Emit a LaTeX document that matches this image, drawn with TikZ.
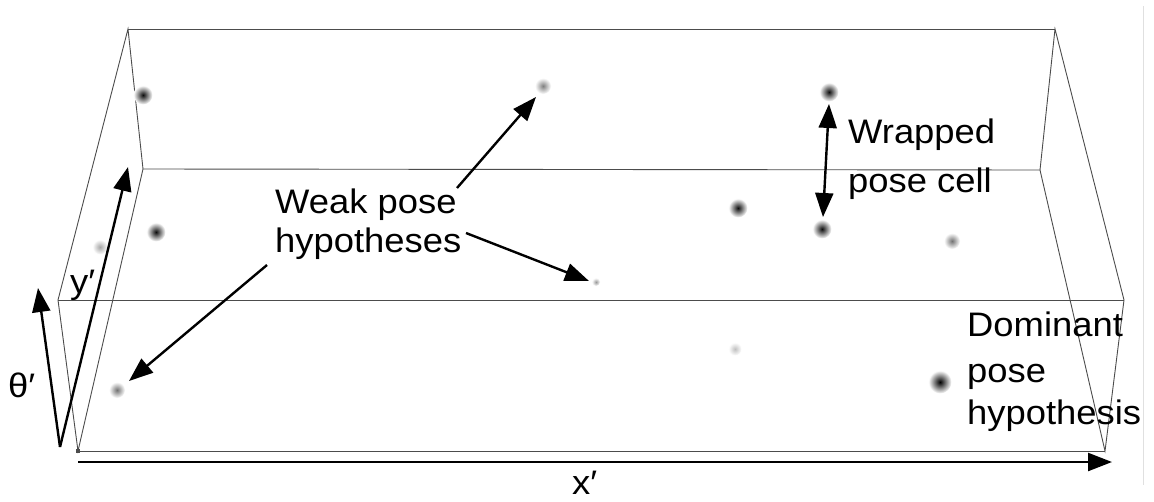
\documentclass[tikz,border=0pt]{standalone}
\usepackage{fontspec}
\setmainfont{Liberation Sans}[FakeStretch=1.07]
\usetikzlibrary{arrows.meta}
\begin{document}
\begin{tikzpicture}[x=1pt,y=-1pt,
  edge/.style={draw=black!70, line width=0.9pt},
  arr/.style={line width=2.4pt, -{Triangle[length=24pt,width=18pt]}},
  darr/.style={line width=2.4pt, {Triangle[length=24pt,width=18pt]}-{Triangle[length=24pt,width=18pt]}},
  lbl/.style={anchor=base west, inner sep=0pt, font=\fontsize{34}{40}\selectfont},
  blob/.style={circle, inner sep=0pt, shade, outer color=white},
]
\useasboundingbox (0,0) rectangle (1154,501);
\fill[white] (0,0) rectangle (1154,501);
% faint border on the right
\draw[black!12, line width=1pt] (1143,6) -- (1143,485);

% box corners
\coordinate (A) at (128,29);  \coordinate (Ar) at (1055,29);
\coordinate (B) at (143,169); \coordinate (Br) at (1040,170);
\coordinate (C) at (58,300);  \coordinate (Cr) at (1124,300);
\coordinate (D) at (78,451);  \coordinate (Dr) at (1105,451);

\draw[edge] (A) -- (Ar);
\draw[edge] (B) -- (Br);
\draw[edge] (C) -- (Cr);
\draw[edge] (D) -- (Dr);
\draw[edge] (A) -- (B) -- (D) -- (C) -- cycle;
\draw[edge] (Ar) -- (Br) -- (Dr) -- (Cr) -- cycle;
\fill[black!70] (76,449) rectangle (80,453);

% pose cell activity blobs
\node[blob, inner color=black!95, minimum size=19pt] (d1) at (143,95) {};
\node[blob, inner color=black!95, minimum size=19pt] (d2) at (156,232) {};
\node[blob, inner color=black!35, minimum size=15pt] (d3) at (100,247) {};
\node[blob, inner color=black!50, minimum size=16pt] (d4) at (543,86) {};
\node[blob, inner color=black!40, minimum size=8pt]  (d5) at (596,282) {};
\node[blob, inner color=black!95, minimum size=19pt] (d6) at (829,92) {};
\node[blob, inner color=black!95, minimum size=19pt] (d7) at (738,208) {};
\node[blob, inner color=black!95, minimum size=19pt] (d8) at (822,229) {};
\node[blob, inner color=black!55, minimum size=16pt] (d9) at (952,241) {};
\node[blob, inner color=black!25, minimum size=13pt] (d10) at (735,349) {};
\node[blob, inner color=black!100, minimum size=23pt] (d11) at (940,382) {};
\node[blob, inner color=black!55, minimum size=16pt] (d12) at (117,390) {};

% axes
\coordinate (O) at (60,447);
\coordinate (thtip) at (38,288);
\coordinate (ytip) at (128,167);
\coordinate (xs) at (78,462);
\coordinate (xtip) at (1112,462);
\draw[arr] (O) -- (thtip);
\draw[arr] (O) -- (ytip);
\draw[arr] (xs) -- (xtip);
\node[lbl] (th) at (8,397) {θ′};
\node[lbl] (yl) at (70,293) {y′};
\node[lbl] (xl) at (572,494) {x′};

% labels
\node[lbl] (weak1) at (275,213) {Weak pose};
\node[lbl] (weak2) at (275,252) {hypotheses};
\node[lbl] (wrap1) at (848,143) {Wrapped};
\node[lbl] (wrap2) at (848,192) {pose cell};
\node[lbl] (dom1) at (967,336) {Dominant};
\node[lbl] (dom2) at (967,382) {pose};
\node[lbl] (dom3) at (967,424) {hypothesis};

% label arrows
\coordinate (w1s) at (457,188); \coordinate (w1e) at (536,97);
\coordinate (w2s) at (466,233); \coordinate (w2e) at (589,281);
\coordinate (w3s) at (267,265); \coordinate (w3e) at (129,381);
\draw[arr] (w1s) -- (w1e);
\draw[arr] (w2s) -- (w2e);
\draw[arr] (w3s) -- (w3e);
\coordinate (wa) at (823,217); \coordinate (wb) at (829,104);
\draw[darr] (wa) -- (wb);
\end{tikzpicture}
\end{document}
